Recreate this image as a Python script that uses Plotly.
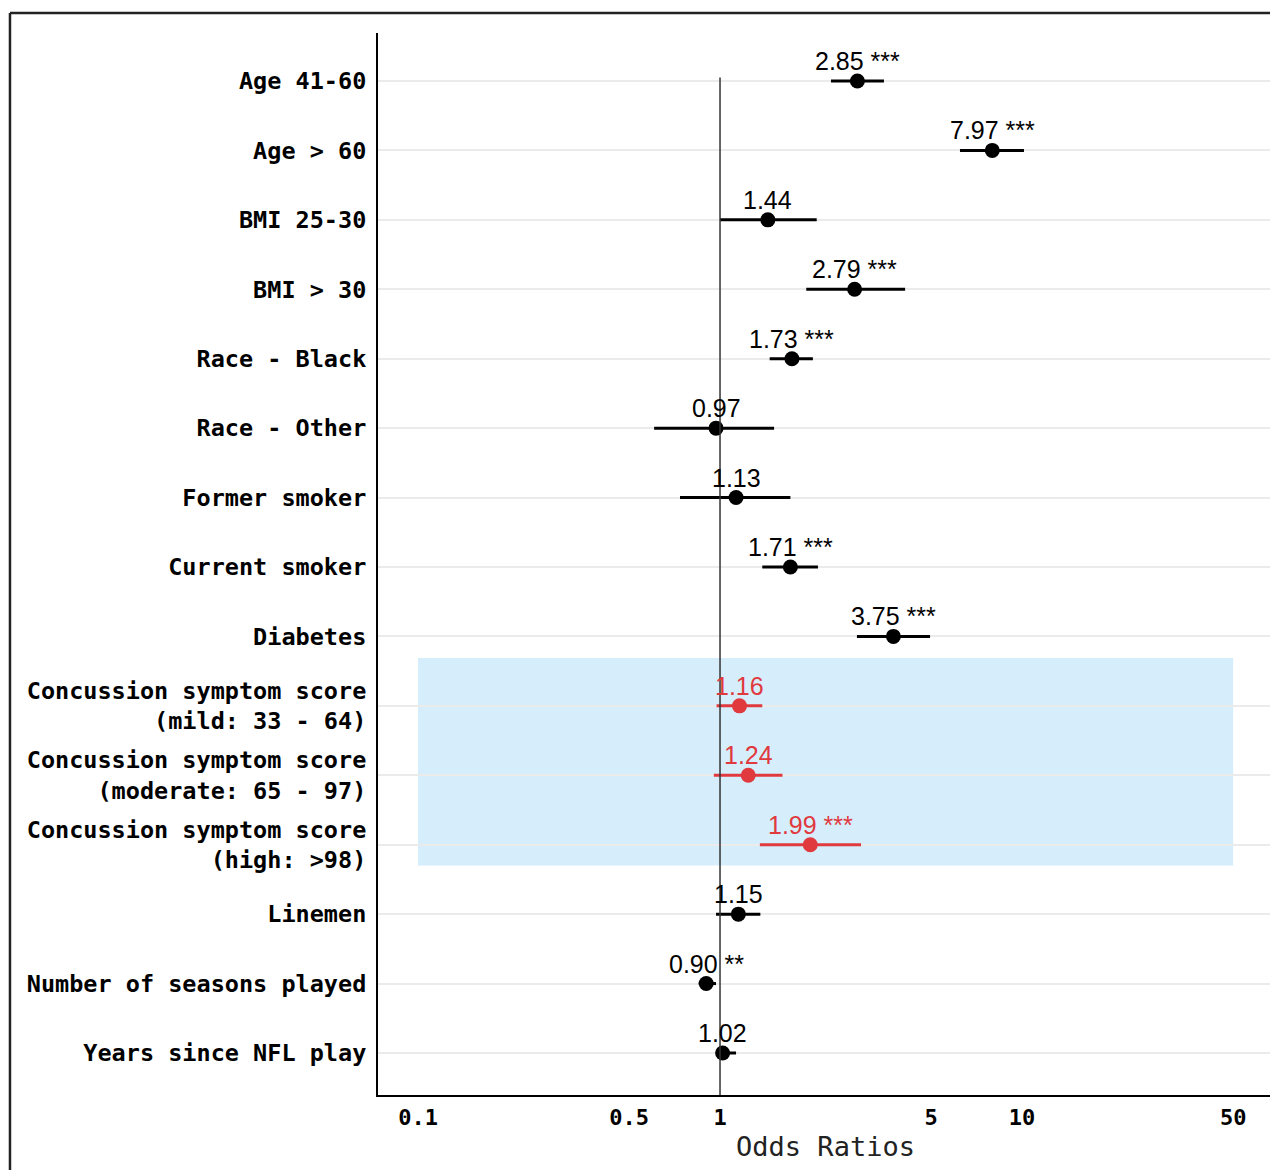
import numpy as np
import plotly.graph_objects as go

# ---- data ----
labels = [
    "Age 41-60", "Age > 60", "BMI 25-30", "BMI > 30", "Race - Black",
    "Race - Other", "Former smoker", "Current smoker", "Diabetes",
    "Concussion symptom score<br>(mild: 33 - 64)",
    "Concussion symptom score<br>(moderate: 65 - 97)",
    "Concussion symptom score<br>(high: >98)",
    "Linemen", "Number of seasons played", "Years since NFL play",
]
odds_ratio = [2.85, 7.97, 1.44, 2.79, 1.73, 0.97, 1.13, 1.71, 3.75, 1.16, 1.24, 1.99, 1.15, 0.90, 1.02]
ci_low = [2.33, 6.23, 1.00, 1.93, 1.46, 0.605, 0.737, 1.38, 2.84, 0.974, 0.954, 1.355, 0.97, 0.85, 0.98]
ci_high = [3.49, 10.15, 2.09, 4.10, 2.03, 1.51, 1.71, 2.11, 4.96, 1.38, 1.61, 2.93, 1.36, 0.97, 1.13]
stars = ["***", "***", "", "***", "***", "", "", "***", "***", "", "", "***", "", "**", ""]
highlight = [False] * 9 + [True] * 3 + [False] * 3

x_tickvals = [0.1, 0.5, 1, 5, 10, 50]
x_ticktext = ["0.1", "0.5", "1", "5", "10", "50"]
highlight_x = [0.1, 50]

BLACK = "#000000"
RED = "#e0393e"
BLUE = "#d6eefc"
MONO = "DejaVu Sans Mono"
SANS = "Liberation Sans, Arial, Helvetica, sans-serif"

n = len(labels)
ypos = [n - 1 - i for i in range(n)]

fig = go.Figure()

for hl, col in [(False, BLACK), (True, RED)]:
    xs, ys = [], []
    for i in range(n):
        if highlight[i] == hl:
            xs += [ci_low[i], ci_high[i], None]
            ys += [ypos[i], ypos[i], None]
    fig.add_trace(go.Scatter(x=xs, y=ys, mode="lines",
                             line=dict(color=col, width=3), hoverinfo="skip"))
    px = [odds_ratio[i] for i in range(n) if highlight[i] == hl]
    py = [ypos[i] for i in range(n) if highlight[i] == hl]
    fig.add_trace(go.Scatter(x=px, y=py, mode="markers",
                             marker=dict(color=col, size=15, line=dict(width=0))))

for i in range(n):
    txt = f"{odds_ratio[i]:.2f}" + (f" {stars[i]}" if stars[i] else "")
    fig.add_annotation(x=np.log10(odds_ratio[i]), y=ypos[i], xref="x", yref="y",
                       text=txt, showarrow=False, yanchor="bottom", yshift=4,
                       font=dict(family=SANS, size=25,
                                 color=RED if highlight[i] else BLACK))

hl_rows = [ypos[i] for i in range(n) if highlight[i]]
fig.add_shape(type="rect", xref="x", yref="y", layer="below",
              x0=highlight_x[0], x1=highlight_x[1],
              y0=min(hl_rows) - 0.30, y1=max(hl_rows) + 0.69,
              fillcolor=BLUE, line=dict(width=0))

# reference line at OR = 1
fig.add_shape(type="line", xref="x", yref="y", x0=1, x1=1,
              y0=-0.605, y1=max(ypos) + 0.05,
              line=dict(color="#333333", width=1.5))

# outer frame (left & top)
fig.add_shape(type="line", xref="paper", yref="paper", x0=-0.4112, x1=-0.4112,
              y0=1.0188, y1=-0.2, line=dict(color="#222222", width=2.5))
fig.add_shape(type="line", xref="paper", yref="paper", x0=-0.4112, x1=1.1,
              y0=1.0188, y1=1.0188, line=dict(color="#222222", width=2.5))

fig.update_layout(
    width=1270, height=1162,
    margin=dict(l=370, r=5, t=25, b=75),
    paper_bgcolor="white", plot_bgcolor="white",
    showlegend=False,
    xaxis=dict(type="log", range=[-1.1325, 1.831],
               tickvals=x_tickvals, ticktext=x_ticktext,
               showgrid=False, zeroline=False,
               showline=True, linecolor=BLACK, linewidth=2,
               ticks="", ticklabelstandoff=2,
               tickfont=dict(family=MONO, size=22, color=BLACK, weight="bold"),
               title=dict(text="Odds Ratios", standoff=8,
                          font=dict(family=MONO, size=27, color="#222222"))),
    yaxis=dict(range=[-0.605, n - 1 + 0.691],
               tickvals=ypos, ticktext=labels,
               showgrid=True, gridcolor="#ebebeb", gridwidth=2,
               zeroline=False, showline=True, linecolor=BLACK, linewidth=2,
               ticks="", ticklabelstandoff=5,
               tickfont=dict(family=MONO, size=23.5, color=BLACK, weight="bold")),
)

fig.write_html("out.html")
